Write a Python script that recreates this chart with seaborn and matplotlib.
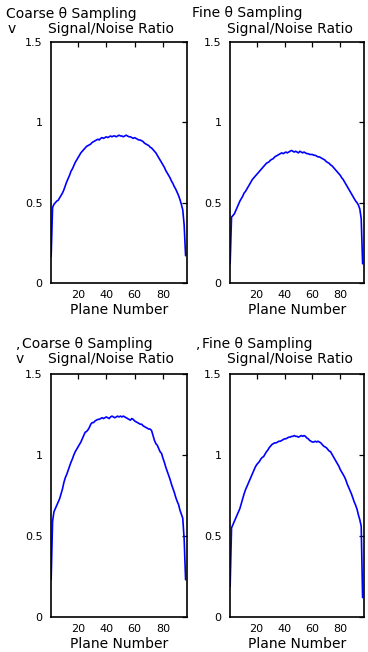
import matplotlib
matplotlib.use("Agg")
import matplotlib.pyplot as plt
import seaborn as sns
import pandas as pd
from matplotlib.transforms import Bbox, TransformedBbox

planes = list(range(1, 97))

coarse_top = [0.165, 0.47, 0.49, 0.50, 0.51, 0.515, 0.53, 0.545, 0.56, 0.58,
              0.605, 0.63, 0.65, 0.67, 0.695, 0.71, 0.73, 0.75, 0.765, 0.78,
              0.795, 0.81, 0.82, 0.83, 0.84, 0.85, 0.855, 0.86, 0.865, 0.875,
              0.88, 0.885, 0.89, 0.895, 0.89, 0.90, 0.905, 0.90, 0.905, 0.91,
              0.905, 0.91, 0.915, 0.91, 0.915, 0.915, 0.91, 0.915, 0.92, 0.915,
              0.915, 0.91, 0.915, 0.92, 0.915, 0.91, 0.91, 0.905, 0.90, 0.905,
              0.90, 0.895, 0.89, 0.89, 0.885, 0.88, 0.87, 0.865, 0.86, 0.855,
              0.845, 0.84, 0.83, 0.82, 0.81, 0.795, 0.78, 0.765, 0.75, 0.735,
              0.72, 0.70, 0.685, 0.67, 0.655, 0.635, 0.62, 0.60, 0.585, 0.565,
              0.545, 0.52, 0.49, 0.455, 0.36, 0.17]

fine_top = [0.12, 0.41, 0.42, 0.43, 0.45, 0.47, 0.49, 0.51, 0.525, 0.54,
            0.56, 0.57, 0.585, 0.60, 0.615, 0.63, 0.645, 0.655, 0.665, 0.675,
            0.685, 0.695, 0.705, 0.715, 0.725, 0.735, 0.745, 0.75, 0.755, 0.765,
            0.77, 0.775, 0.785, 0.79, 0.795, 0.80, 0.805, 0.81, 0.805, 0.81,
            0.815, 0.81, 0.815, 0.82, 0.825, 0.82, 0.815, 0.82, 0.815, 0.81,
            0.82, 0.815, 0.81, 0.815, 0.81, 0.805, 0.805, 0.80, 0.80, 0.80,
            0.795, 0.795, 0.79, 0.785, 0.785, 0.78, 0.775, 0.77, 0.765, 0.755,
            0.75, 0.745, 0.735, 0.73, 0.72, 0.71, 0.70, 0.69, 0.68, 0.67,
            0.655, 0.645, 0.63, 0.615, 0.60, 0.585, 0.57, 0.555, 0.54, 0.525,
            0.51, 0.50, 0.485, 0.46, 0.40, 0.12]

coarse_bottom = [0.23, 0.59, 0.65, 0.67, 0.69, 0.71, 0.73, 0.76, 0.79, 0.83,
                 0.86, 0.88, 0.905, 0.93, 0.955, 0.975, 1.00, 1.02, 1.035, 1.05,
                 1.065, 1.08, 1.10, 1.12, 1.14, 1.145, 1.155, 1.17, 1.19, 1.20,
                 1.20, 1.21, 1.215, 1.22, 1.22, 1.225, 1.23, 1.225, 1.23, 1.235,
                 1.23, 1.225, 1.235, 1.24, 1.235, 1.23, 1.235, 1.24, 1.235, 1.24,
                 1.235, 1.24, 1.235, 1.23, 1.225, 1.22, 1.215, 1.225, 1.22, 1.21,
                 1.205, 1.20, 1.195, 1.19, 1.19, 1.18, 1.175, 1.17, 1.165, 1.16,
                 1.16, 1.15, 1.12, 1.09, 1.07, 1.06, 1.04, 1.02, 1.01, 0.98,
                 0.955, 0.925, 0.90, 0.875, 0.85, 0.82, 0.795, 0.77, 0.74, 0.715,
                 0.695, 0.66, 0.635, 0.61, 0.48, 0.23]

fine_bottom = [0.19, 0.55, 0.57, 0.59, 0.61, 0.63, 0.65, 0.67, 0.70, 0.73,
               0.76, 0.785, 0.805, 0.825, 0.845, 0.865, 0.885, 0.905, 0.925, 0.94,
               0.95, 0.96, 0.975, 0.985, 0.99, 1.005, 1.02, 1.03, 1.045, 1.055,
               1.065, 1.07, 1.075, 1.075, 1.08, 1.085, 1.085, 1.09, 1.095, 1.10,
               1.10, 1.105, 1.11, 1.11, 1.115, 1.115, 1.12, 1.115, 1.115, 1.11,
               1.115, 1.12, 1.115, 1.12, 1.115, 1.105, 1.10, 1.09, 1.085, 1.08,
               1.08, 1.085, 1.08, 1.085, 1.08, 1.075, 1.065, 1.055, 1.05, 1.045,
               1.035, 1.025, 1.02, 1.005, 0.99, 0.975, 0.96, 0.945, 0.93, 0.91,
               0.895, 0.88, 0.865, 0.845, 0.82, 0.80, 0.78, 0.76, 0.735, 0.71,
               0.69, 0.665, 0.63, 0.60, 0.56, 0.12]

x_ticks = [20, 40, 60, 80]
x_tick_labels = ["20", "40", "60", "80"]
y_ticks = [0, 0.5, 1, 1.5]
y_tick_labels = ["0", "0.5", "1", "1.5"]
x_label = "Plane Number"

sns.set_style("white")
plt.rcParams["font.family"] = ["DejaVu Sans"]
plt.rcParams["text.color"] = "black"
plt.rcParams["axes.labelcolor"] = "black"
plt.rcParams["xtick.color"] = "black"
plt.rcParams["ytick.color"] = "black"

W, H = 368, 652
fig = plt.figure(figsize=(W / 100, H / 100), dpi=100)
fig.patch.set_facecolor("white")


def px_axes(left, right, top, bottom):
    return fig.add_axes([left / W, 1 - bottom / H, (right - left) / W, (bottom - top) / H])


panels = [
    (px_axes(51, 187, 42, 283), coarse_top),
    (px_axes(230, 364, 42, 283), fine_top),
    (px_axes(51, 187, 374, 617), coarse_bottom),
    (px_axes(230, 364, 374, 617), fine_bottom),
]

for ax, vals in panels:
    df = pd.DataFrame({"plane": planes, "snr": vals})
    sns.lineplot(data=df, x="plane", y="snr", ax=ax, color="#0000ff", linewidth=1.2)
    ax.set_xlim(0.9, 97)
    ax.set_ylim(0, 1.5)
    ax.set_xticks(x_ticks)
    ax.set_xticklabels(x_tick_labels)
    ax.set_yticks(y_ticks)
    ax.set_yticklabels(y_tick_labels)
    ax.tick_params(direction="in", top=True, right=True, length=3.5, width=0.9,
                   labelsize=8, colors="black", labelcolor="black", pad=5)
    ax.tick_params(axis="y", pad=6)
    for s in ax.spines.values():
        s.set_visible(True)
        s.set_color("black")
        s.set_linewidth(1.2)
    ax.set_xlabel(x_label, fontsize=10, labelpad=2, color="black")
    ax.set_ylabel("")
    ax.grid(False)
    ax.set_facecolor("white")


def ftext(x, y, s, clip_right=None):
    t = fig.text(x / W, 1 - y / H, s, fontsize=10, ha="left", va="baseline", color="black")
    if clip_right is not None:
        t.set_clip_box(TransformedBbox(Bbox([[0, 0], [clip_right / W, 1]]), fig.transFigure))
        t.set_clip_on(True)
    return t


# top row titles
ftext(6, 18, "Coarse θ Sampling", clip_right=188)
ftext(8, 33, "v")
ftext(48, 33, "Signal/Noise Ratio", clip_right=190)
ftext(192, 17, "Fine θ Sampling")
ftext(227, 33, "Signal/Noise Ratio")

# bottom row titles
ftext(16, 348, ",")
ftext(22, 348, "Coarse θ Sampling", clip_right=188)
ftext(16, 363, "v")
ftext(48, 363, "Signal/Noise Ratio", clip_right=190)
ftext(196, 348, ",")
ftext(202, 348, "Fine θ Sampling")
ftext(227, 363, "Signal/Noise Ratio")

fig.savefig("out.png", dpi=100, facecolor="white")
